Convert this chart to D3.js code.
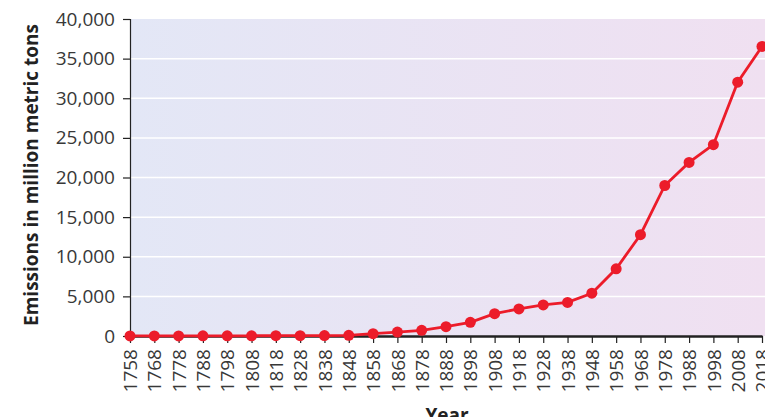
<!DOCTYPE html>
<html><head><meta charset="utf-8">
<script src="https://cdn.jsdelivr.net/npm/d3@7"></script>
<style>body{margin:0;background:#fff}svg{display:block}</style>
</head><body>
<svg id="c" width="765" height="417"></svg>
<script>
const years = [1758,1768,1778,1788,1798,1808,1818,1828,1838,1848,1858,1868,1878,1888,1898,1908,1918,1928,1938,1948,1958,1968,1978,1988,1998,2008,2018];
const emissions = [10,12,15,18,22,28,35,45,60,90,290,500,720,1180,1730,2820,3420,3920,4240,5400,8480,12780,18990,21900,24140,32030,36540];
const yTicks = [0,5000,10000,15000,20000,25000,30000,35000,40000];

const svg = d3.select("#c");
const m = {left:130, top:19, right:3};
const W = 765;
const x = d3.scaleLinear().domain([1758,2018]).range([m.left, W - m.right]);
const y = d3.scaleLinear().domain([0,40000]).range([336, m.top]);

const defs = svg.append("defs");
const g = defs.append("linearGradient").attr("id","bg").attr("x1","0").attr("x2","1").attr("y1","0").attr("y2","0");
g.append("stop").attr("offset","0").attr("stop-color","#e3e7f6");
g.append("stop").attr("offset","1").attr("stop-color","#f0e0f1");

svg.append("rect").attr("x",m.left).attr("y",y(40000)).attr("width",W - m.left).attr("height",y(0)-y(40000)).attr("fill","url(#bg)");

svg.append("g").selectAll("line").data(yTicks.filter(d=>d>0&&d<40000)).join("line")
  .attr("x1",m.left).attr("x2",W).attr("y1",d=>y(d)).attr("y2",d=>y(d))
  .attr("stroke","#fff").attr("stroke-width",1.5);

const font = "'Open Sans', 'Noto Sans', sans-serif";
const yAxis = svg.append("g").attr("transform",`translate(${m.left},0)`)
  .call(d3.axisLeft(y).tickValues(yTicks).tickFormat(d3.format(",")).tickSize(7).tickPadding(8));
yAxis.select(".domain").attr("stroke","#222").attr("stroke-width",1.2);
yAxis.selectAll(".tick line").attr("stroke","#222").attr("stroke-width",1.2);
yAxis.selectAll("text").attr("font-family",font).attr("font-size",19).attr("fill","#383838");

const xAxis = svg.append("g").attr("transform",`translate(0,${y(0)})`)
  .call(d3.axisBottom(x).tickValues(years).tickFormat(d3.format("d")).tickSize(7).tickSizeOuter(0));
xAxis.select(".domain").attr("stroke","#222").attr("stroke-width",2.5);
xAxis.selectAll(".tick line").attr("stroke","#222").attr("stroke-width",1.2);
xAxis.selectAll("text").attr("font-family",font).attr("font-size",19).attr("fill","#383838")
  .attr("transform","rotate(-90)").attr("text-anchor","end").attr("dx","-13px").attr("dy","0.35em").attr("x",0).attr("y",0);

const line = d3.line().x((d,i)=>x(years[i])).y(d=>y(d));
svg.append("path").datum(emissions).attr("d",line).attr("fill","none").attr("stroke","#ec1c2a").attr("stroke-width",2.8);
svg.append("g").selectAll("circle").data(emissions).join("circle")
  .attr("cx",(d,i)=>x(years[i])).attr("cy",d=>y(d)).attr("r",5.5).attr("fill","#ec1c2a");

svg.append("text").attr("transform",`translate(38,175) rotate(-90)`)
  .attr("text-anchor","middle").attr("font-family",font).attr("font-weight","bold").attr("font-size",19).attr("fill","#222")
  .text("Emissions in million metric tons");
svg.append("text").attr("x",447).attr("y",422).attr("text-anchor","middle").attr("font-family",font).attr("font-weight","bold").attr("font-size",19).attr("fill","#222")
  .text("Year");
</script>
</body></html>
